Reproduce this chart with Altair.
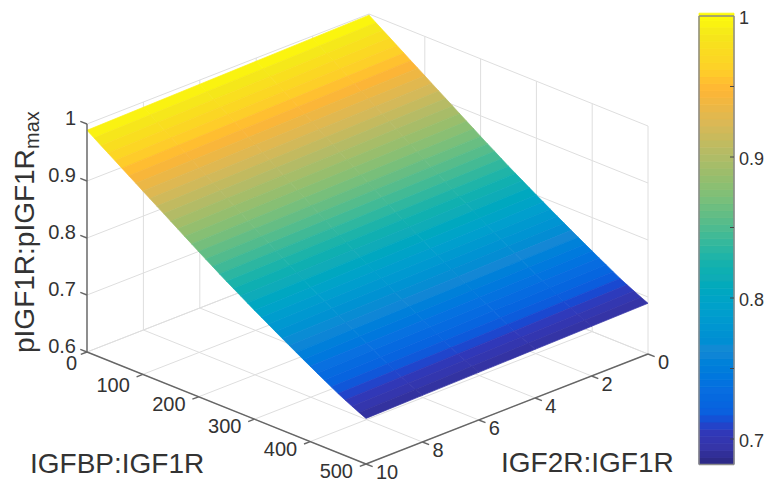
import altair as alt
import pandas as pd

# ---- values ----
t_ticks = [0, 100, 200, 300, 400, 500]
r_ticks = [0, 2, 4, 6, 8, 10]
z_ticks = [0.6, 0.7, 0.8, 0.9, 1.0]
z_labels = ["0.6", "0.7", "0.8", "0.9", "1"]
t_rows = [i * 12.5 for i in range(41)]
z_at_r0 = [0.9980, 0.9896, 0.9811, 0.9729, 0.9645, 0.9561, 0.9476, 0.9394, 0.9309, 0.9225,
           0.9141, 0.9058, 0.8974, 0.8890, 0.8806, 0.8723, 0.8639, 0.8556, 0.8476, 0.8393,
           0.8312, 0.8235, 0.8158, 0.8080, 0.8003, 0.7928, 0.7852, 0.7778, 0.7703, 0.7629,
           0.7557, 0.7483, 0.7412, 0.7340, 0.7270, 0.7199, 0.7129, 0.7066, 0.7005, 0.6946, 0.6890]
r_cols = [0, 2, 4, 6, 8, 10]
drop_with_r = [0.0, 0.0018, 0.0036, 0.0054, 0.0072, 0.0090]
colour_tilt = 0.3  # colour bands run nearly parallel to the IGF2R axis in the picture

cbar_levels = [round(0.682 + 0.005 * i, 3) for i in range(64)]
cbar_ticks = [0.7, 0.75, 0.8, 0.85, 0.9, 0.95, 1.0]
cbar_labels = {0.7: "0.7", 0.8: "0.8", 0.9: "0.9", 1.0: "1"}

color_domain = [0.682, 0.692, 0.702, 0.709, 0.717, 0.735, 0.76, 0.79, 0.81, 0.84, 0.87, 0.90, 0.92, 0.945, 0.96, 0.985, 1.0]
color_range = ["#2D2A88", "#3535A8", "#3038B8", "#1A48D0", "#0A60DE", "#0A70E0", "#1788D4", "#05A0CC", "#10ABB8",
               "#3CB998", "#7EBF78", "#B4BB66", "#D8B858", "#FFB535", "#FDD028", "#F5E81A", "#FFFF00"]

# ---- layout ----
W, H = 756, 474
MARGIN = 8
FONT = "Liberation Sans"
TEXT = "#333333"
GRID = "#dedede"
AXIS = "#666666"


def proj(t, r, z):
    """Oblique view of the 3D box, in plot pixels."""
    x = 369 + t * 279 / 500 - r * 28.2
    y = 242 + t * 112 / 500 + r * 11 - (z - 0.6) * 570
    return x - MARGIN, y - MARGIN


def seg(a, b):
    (x, y), (x2, y2) = proj(*a), proj(*b)
    return {"x": x, "y": y, "x2": x2, "y2": y2}


xs = alt.Scale(domain=[0, W], range=[0, W])
ys = alt.Scale(domain=[0, H], range=[0, H])
color_scale = alt.Scale(domain=color_domain, range=color_range, clamp=True)


def rules(rows, color, width):
    return alt.Chart(pd.DataFrame(rows)).mark_rule(color=color, strokeWidth=width).encode(
        x=alt.X("x:Q", scale=xs, axis=None), y=alt.Y("y:Q", scale=ys, axis=None), x2="x2:Q", y2="y2:Q")


def texts(rows, size, align="left", angle=0):
    return alt.Chart(pd.DataFrame(rows)).mark_text(
        font=FONT, fontSize=size, color=TEXT, align=align, baseline="middle" if angle == 0 else "alphabetic",
        angle=angle).encode(
        x=alt.X("x:Q", scale=xs, axis=None), y=alt.Y("y:Q", scale=ys, axis=None), text="label:N")


# grid on floor and two back walls
grid_rows = []
for t in t_ticks:
    grid_rows.append(seg((t, 0, 0.6), (t, 10, 0.6)))
    grid_rows.append(seg((t, 0, 0.6), (t, 0, 1.0)))
for r in r_ticks:
    grid_rows.append(seg((0, r, 0.6), (500, r, 0.6)))
    grid_rows.append(seg((0, r, 0.6), (0, r, 1.0)))
for z in z_ticks:
    grid_rows.append(seg((0, 0, z), (500, 0, z)))
    grid_rows.append(seg((0, 0, z), (0, 10, z)))

# axes and ticks
axis_rows = [seg((0, 10, 0.6), (0, 10, 1.0)), seg((0, 10, 0.6), (500, 10, 0.6)), seg((500, 10, 0.6), (500, 0, 0.6))]
for z in z_ticks:
    axis_rows.append(seg((0, 10, z), (-12, 10, z)))
for t in t_ticks:
    axis_rows.append(seg((t, 10, 0.6), (t, 10.22, 0.6)))
for r in r_ticks:
    axis_rows.append(seg((500, r, 0.6), (512, r, 0.6)))

# surface cells
features = []
for i in range(len(t_rows) - 1):
    for j in range(len(r_cols) - 1):
        corners = [(i, j), (i, j + 1), (i + 1, j + 1), (i + 1, j), (i, j)]
        shade = sum(z_at_r0[a] - colour_tilt * drop_with_r[b] for a, b in corners[:4]) / 4
        ring = [list(proj(t_rows[a], r_cols[b], z_at_r0[a] - drop_with_r[b])) for a, b in corners]
        features.append({"type": "Feature", "properties": {"z": shade},
                         "geometry": {"type": "Polygon", "coordinates": [ring]}})

surface = alt.Chart(alt.Data(values=features)).mark_geoshape(strokeWidth=0.7).encode(
    color=alt.Color("properties.z:Q", scale=color_scale, legend=None),
    stroke=alt.Color("properties.z:Q", scale=color_scale, legend=None),
).project(type="identity", reflectY=False, scale=1, translate=[0, 0])

# tick labels
z_text = [{"x": proj(0, 10, z)[0] - 11, "y": proj(0, 10, z)[1] - 5, "label": l} for z, l in zip(z_ticks, z_labels)]
t_text = [{"x": proj(t, 10, 0.6)[0] - (10 if t == 0 else 13), "y": proj(t, 10, 0.6)[1] + (12 if t <= 100 else 8),
           "label": str(t)} for t in t_ticks]
r_text = [{"x": proj(500, r, 0.6)[0] + 10, "y": proj(500, r, 0.6)[1] + 9, "label": str(r)} for r in r_ticks]
title_text = [{"x": 30 - MARGIN, "y": 465 - MARGIN, "label": "IGFBP:IGF1R"},
              {"x": 501 - MARGIN, "y": 464 - MARGIN, "label": "IGF2R:IGF1R"}]

# colour bar
BAR_L, BAR_R = 699 - MARGIN, 734 - MARGIN


def bar_y(v):
    return 439 - MARGIN - (v - 0.7) * 1410


cbar_df = pd.DataFrame([{"lo": v, "x": BAR_L, "x2": BAR_R, "y": bar_y(v), "y2": bar_y(v + 0.005)} for v in cbar_levels])
cbar = alt.Chart(cbar_df).mark_rect(strokeWidth=0.8).encode(
    x=alt.X("x:Q", scale=xs, axis=None), x2="x2:Q",
    y=alt.Y("y:Q", scale=ys, axis=None), y2="y2:Q",
    color=alt.Color("lo:Q", scale=color_scale, legend=None),
    stroke=alt.Color("lo:Q", scale=color_scale, legend=None))
top, bottom = bar_y(1.0), bar_y(0.682)
frame = [{"x": BAR_L, "y": top, "x2": BAR_R, "y2": top}, {"x": BAR_L, "y": bottom, "x2": BAR_R, "y2": bottom},
         {"x": BAR_L, "y": top, "x2": BAR_L, "y2": bottom}, {"x": BAR_R, "y": top, "x2": BAR_R, "y2": bottom}]
bar_ticks = [{"x": BAR_R - 4, "y": bar_y(v), "x2": BAR_R, "y2": bar_y(v)} for v in cbar_ticks if v < 1]
bar_text = [{"x": BAR_R + 5, "y": bar_y(v) + 3, "label": l} for v, l in cbar_labels.items()]

chart = alt.layer(
    rules(grid_rows, GRID, 1),
    surface,
    rules(axis_rows, AXIS, 1.4),
    cbar,
    rules(frame, "#8a8a8a", 1.5),
    rules(bar_ticks, "#444444", 1),
    texts(z_text, 20, "right"),
    texts(t_text, 20, "right"),
    texts(r_text, 20, "left"),
    texts(bar_text, 18, "left"),
    texts(title_text, 28, "left"),
    texts([{"x": 34 - MARGIN, "y": 353 - MARGIN, "label": "pIGF1R:pIGF1R"}], 28, "left", 270),
    texts([{"x": 39 - MARGIN, "y": 149 - MARGIN, "label": "max"}], 20, "left", 270),
).properties(width=W, height=H, padding=0, autosize=alt.AutoSizeParams(type="none")).configure_view(stroke=None)

chart.save("out.html", embed_options={"renderer": "svg", "actions": False})
